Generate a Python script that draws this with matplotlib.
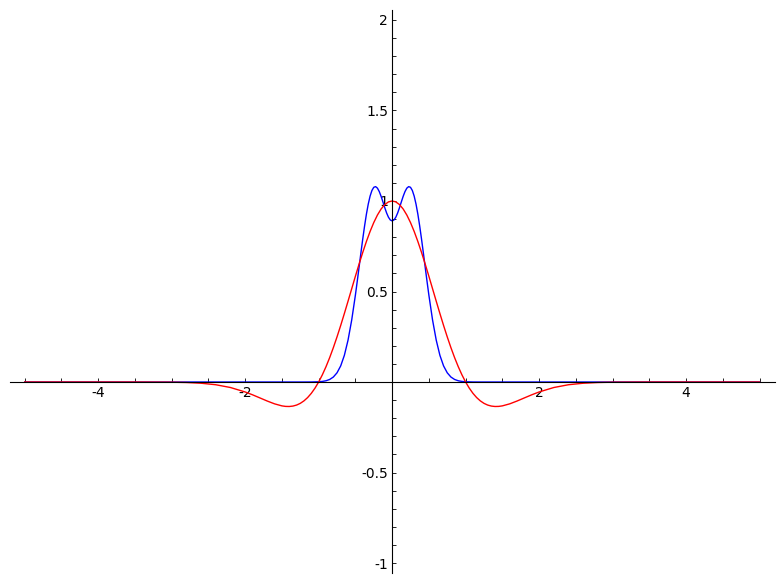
import matplotlib
matplotlib.use("Agg")
import matplotlib.pyplot as plt
from matplotlib.ticker import MultipleLocator, FuncFormatter

plt.rcParams["axes.unicode_minus"] = False

# === values (right half, curves are symmetric about x = 0) ===
red_x_half = [0, 0.05, 0.1, 0.15, 0.2, 0.25, 0.3, 0.35, 0.4, 0.45, 0.5,
              0.55, 0.6, 0.65, 0.7, 0.75, 0.8, 0.85, 0.9, 0.95, 1.0,
              1.05, 1.1, 1.15, 1.2, 1.25, 1.3, 1.35, 1.4, 1.45, 1.5,
              1.6, 1.7, 1.8, 1.9, 2.0, 2.2, 2.4, 2.6, 2.8, 3.0, 3.5, 5.0]
red_y_half = [1.0, 0.9950, 0.9802, 0.9558, 0.9224, 0.8807, 0.8317, 0.7763, 0.7158, 0.6513, 0.5841,
              0.5154, 0.4465, 0.3785, 0.3124, 0.2493, 0.1898, 0.1347, 0.0845, 0.0395, 0.0,
              -0.0340, -0.0626, -0.0859, -0.1042, -0.1179, -0.1273, -0.1329, -0.1352, -0.1347, -0.1318,
              -0.1206, -0.1050, -0.0877, -0.0706, -0.0550, -0.0304, -0.0150, -0.0067, -0.0027, -0.0010,
              -0.0001, 0.0]

blue_x_half = [0, 0.025, 0.05, 0.075, 0.1, 0.125, 0.15, 0.175, 0.2, 0.225, 0.25,
               0.275, 0.3, 0.325, 0.35, 0.375, 0.4, 0.425, 0.45, 0.475, 0.5,
               0.55, 0.6, 0.65, 0.7, 0.75, 0.8, 0.85, 0.9, 0.95, 1.0, 1.1, 1.2, 2.0, 5.0]
blue_y_half = [0.89, 0.8952, 0.9103, 0.9336, 0.9628, 0.9946, 1.0255, 1.0520, 1.0709, 1.0794, 1.0755,
               1.0580, 1.0269, 0.9828, 0.9272, 0.8619, 0.7896, 0.7127, 0.6339, 0.5556, 0.4799,
               0.3429, 0.2314, 0.1475, 0.0890, 0.0509, 0.0275, 0.0141, 0.0069, 0.0032, 0.0014,
               0.0002, 0.0, 0.0, 0.0]

# mirror to the left side
red_x = [-v for v in red_x_half[:0:-1]] + red_x_half
red_y = red_y_half[:0:-1] + red_y_half
blue_x = [-v for v in blue_x_half[:0:-1]] + blue_x_half
blue_y = blue_y_half[:0:-1] + blue_y_half

fig = plt.figure(figsize=(7.84, 5.84), dpi=100)
ax = fig.add_axes([10 / 784, 11 / 584, 765 / 784, 563 / 584])

ax.plot(blue_x, blue_y, color="blue", lw=1.0)
ax.plot(red_x, red_y, color="red", lw=1.0)

ax.set_xlim(-5.2, 5.21)
ax.set_ylim(-1.055, 2.055)

# sage-like axes through the origin
for side in ("top", "right"):
    ax.spines[side].set_visible(False)
ax.spines["left"].set_position(("data", 0))
ax.spines["bottom"].set_position(("data", 0))
ax.xaxis.set_ticks_position("bottom")
ax.yaxis.set_ticks_position("left")

ax.xaxis.set_major_locator(MultipleLocator(2))
ax.xaxis.set_minor_locator(MultipleLocator(0.5))
ax.yaxis.set_major_locator(MultipleLocator(0.5))
ax.yaxis.set_minor_locator(MultipleLocator(0.1))

fmt = FuncFormatter(lambda v, pos: "" if abs(v) < 1e-9 else "%g" % v)
ax.xaxis.set_major_formatter(fmt)
ax.yaxis.set_major_formatter(fmt)

ax.tick_params(which="both", direction="in", length=3, width=0.6, labelsize=10)
ax.tick_params(axis="x", pad=3)
ax.tick_params(axis="y", pad=3)

fig.savefig("out.png", dpi=100)
